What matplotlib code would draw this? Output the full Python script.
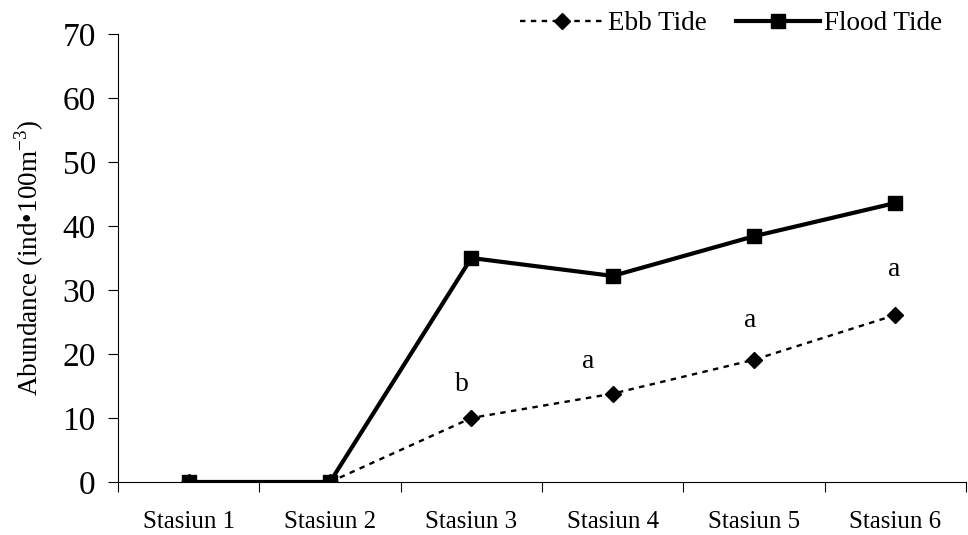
import numpy as np
import matplotlib.pyplot as plt
from matplotlib.ticker import FixedLocator

plt.rcParams['font.family'] = ['Liberation Serif', 'DejaVu Serif']
plt.rcParams['mathtext.fontset'] = 'custom'
plt.rcParams['mathtext.rm'] = 'Liberation Serif'
plt.rcParams['axes.unicode_minus'] = False

stations = ['Stasiun 1', 'Stasiun 2', 'Stasiun 3', 'Stasiun 4', 'Stasiun 5', 'Stasiun 6']
ebb = [0, 0, 10.0, 13.8, 19.1, 26.1]
flood = [0, 0, 35.0, 32.2, 38.4, 43.6]
letters = ['', '', 'b', 'a', 'a', 'a']
# offset of each letter from its ebb marker (points)
letter_off = [(0, 0), (0, 0), (-7, 24), (-18, 23), (-3, 28), (-1, 33)]

x = np.arange(len(stations))

fig = plt.figure(figsize=(9.68, 5.35), dpi=100)
ax = fig.add_axes([0.1219, 0.0991, 0.8761, 0.8373])

ax.plot(x, ebb, color='black', linestyle=(0, (2.3, 2.3)), linewidth=1.7,
        marker='D', markersize=8.5, label='Ebb Tide')
ax.plot(x, flood, color='black', linestyle='-', linewidth=3.0,
        marker='s', markersize=10.5, label='Flood Tide')

for xi, yi, t, off in zip(x, ebb, letters, letter_off):
    if t:
        ax.annotate(t, (xi, yi), xytext=off, textcoords='offset points',
                    ha='center', va='center', fontsize=20)

ax.set_xlim(-0.5, 5.5)
ax.set_ylim(0, 70)
ax.set_yticks(np.arange(0, 71, 10))
ax.set_xticks(x)
ax.set_xticklabels(stations, fontsize=18)
ax.xaxis.set_minor_locator(FixedLocator(np.arange(-0.5, 5.6, 1)))
ax.tick_params(axis='x', which='major', length=0, pad=21)
ax.tick_params(axis='x', which='minor', length=7, width=0.8, direction='out')
ax.tick_params(axis='y', labelsize=24, length=7, width=0.8, direction='out', pad=9)
ax.set_ylabel('Abundance (ind\u2022100m$^{\\mathrm{-3}}$)', fontsize=19.5, labelpad=12)

for s in ['top', 'right']:
    ax.spines[s].set_visible(False)
for s in ['left', 'bottom']:
    ax.spines[s].set_linewidth(0.8)

ax.legend(loc='lower right', bbox_to_anchor=(0.972, 0.995), ncol=2, frameon=False,
          fontsize=19.5, handlelength=3.1, handletextpad=0.15, columnspacing=1.1,
          borderaxespad=0, borderpad=0)

fig.savefig('out.png', dpi=100)
